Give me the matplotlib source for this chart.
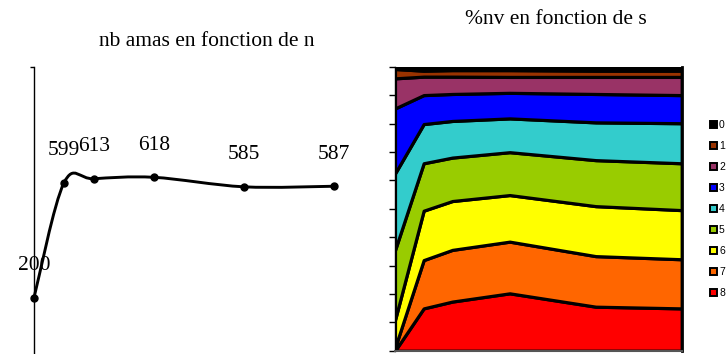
import numpy as np
import matplotlib
matplotlib.use("Agg")
import matplotlib.pyplot as plt
from matplotlib.path import Path
from matplotlib.patches import PathPatch, Patch

# ============ data ============
n_vals = [0, 1, 2, 4, 7, 10]
nb_amas = [200, 599, 613, 618, 585, 587]

s_vals = [0, 1, 2, 4, 7, 10]
# share (%) of each class, bottom (8) to top (0)
nv_8 = [0.0, 14.9, 17.3, 20.2, 15.5, 14.9]
nv_7 = [1.0, 17.0, 18.2, 18.2, 17.8, 17.3]
nv_6 = [9.8, 17.4, 17.2, 16.4, 17.6, 17.3]
nv_5 = [24.6, 16.7, 15.3, 15.1, 16.2, 16.5]
nv_4 = [27.0, 13.8, 12.9, 11.9, 13.3, 14.1]
nv_3 = [22.9, 10.2, 9.5, 9.0, 10.0, 9.9]
nv_2 = [10.6, 6.5, 6.1, 5.6, 6.0, 6.4]
nv_1 = [3.3, 2.1, 2.3, 2.4, 2.2, 2.2]
nv_0 = [0.8, 1.4, 1.2, 1.2, 1.4, 1.4]
classes = ["8", "7", "6", "5", "4", "3", "2", "1", "0"]
colors = ["#ff0000", "#ff6600", "#ffff00", "#99cc00", "#33cccc",
          "#0000ff", "#993366", "#993300", "#000000"]

serif = ["Liberation Serif", "DejaVu Serif"]
W, H = 726, 354
fig = plt.figure(figsize=(W / 100, H / 100), dpi=100)

# ============ left: smoothed line ============
ax1 = fig.add_axes([34 / W, 1 - 355.3 / H, 316 / W, 288 / H])
ax1.set_xlim(0, 316 / 30)
ax1.set_ylim(0, 1000)

# Excel-like smoothed curve (Catmull-Rom as cubic Bezier)
pts = np.column_stack([n_vals, nb_amas]).astype(float)
ext = np.vstack([pts[0], pts, pts[-1]])
verts = [pts[0]]
codes = [Path.MOVETO]
for i in range(len(pts) - 1):
    p0, p1, p2, p3 = ext[i], ext[i + 1], ext[i + 2], ext[i + 3]
    verts += [p1 + (p2 - p0) / 6, p2 - (p3 - p1) / 6, p2]
    codes += [Path.CURVE4] * 3
ax1.add_patch(PathPatch(Path(verts, codes), fill=False, lw=2.1,
                        edgecolor="black", clip_on=False))
ax1.plot(n_vals, nb_amas, "o", color="black", ms=5, clip_on=False)
for x, y in zip(n_vals, nb_amas):
    ax1.annotate(str(y), (x, y), xytext=(0, 23), textcoords="offset points",
                 ha="center", va="center", fontsize=15.5, family=serif)

for sp in ["top", "right", "bottom"]:
    ax1.spines[sp].set_visible(False)
ax1.spines["left"].set_linewidth(1.0)
ax1.set_yticks([0, 1000])
ax1.set_yticklabels([])
ax1.set_xticks([])
ax1.tick_params(axis="y", direction="out", length=3, width=1)
fig.text(207 / W, 1 - 41 / H, "nb amas en fonction de n", ha="center",
         va="center", fontsize=15.5, family=serif)

# ============ right: 100% stacked area ============
ax2 = fig.add_axes([395 / W, 1 - 350.7 / H, 286.7 / W, 284 / H])
ax2.stackplot(s_vals, nv_8, nv_7, nv_6, nv_5, nv_4, nv_3, nv_2, nv_1, nv_0,
              colors=colors, edgecolor="black", linewidth=2.3)
ax2.set_xlim(0, 10)
ax2.set_ylim(0, 100)
ax2.set_yticks(np.arange(0, 101, 10))
ax2.set_yticklabels([])
ax2.set_xticks([])
ax2.tick_params(axis="y", direction="out", length=4, width=1)
ax2.spines["top"].set_visible(False)
ax2.spines["right"].set_linewidth(2)
ax2.spines["left"].set_linewidth(1.0)
ax2.spines["bottom"].set_color("#555555")
ax2.spines["bottom"].set_linewidth(1.5)
fig.text(556 / W, 1 - 19 / H, "%nv en fonction de s", ha="center",
         va="center", fontsize=15.5, family=serif)

handles = [Patch(facecolor=c, edgecolor="black", linewidth=1.4, label=l)
           for c, l in zip(colors[::-1], classes[::-1])]
fig.legend(handles=handles, loc="center left",
           bbox_to_anchor=(705 / W, 1 - 209 / H), frameon=False,
           prop={"family": "Liberation Sans", "size": 7.5},
           handlelength=0.65, handleheight=0.65, handletextpad=0.2,
           labelspacing=1.05, borderpad=0)

fig.savefig("out.png", dpi=100)
